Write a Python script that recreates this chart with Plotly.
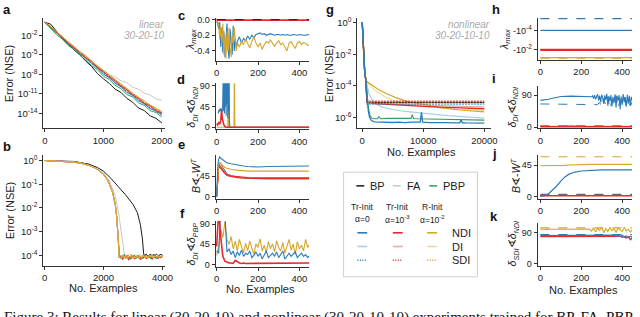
import plotly.graph_objects as go

# ======================= DATA =======================
# Panel a (linear, log10 NSE)
A_X = [0,100,200,300,400,500,600,700,800,900,1000,1100,1200,1300,1400,1500,1600,1700,1800,1900,2000]
A_BP  = [0.0,-0.3,-1.4,-2.5,-3.3,-4.3,-5.0,-6.0,-6.8,-7.9,-8.7,-9.4,-10.3,-10.8,-11.7,-12.3,-13.2,-13.6,-14.4,-14.8,-15.5]
A_FA  = [0.0,-0.9,-1.6,-2.5,-3.2,-4.1,-4.7,-5.6,-6.2,-7.0,-7.4,-8.1,-8.4,-9.0,-9.3,-10.0,-10.3,-10.9,-11.2,-11.8,-12.0]
A_PBP = [0.0,-0.9,-1.9,-2.6,-3.6,-4.2,-5.1,-5.8,-6.7,-7.3,-8.3,-8.8,-9.7,-10.2,-11.1,-11.5,-12.4,-12.8,-13.6,-13.9,-14.6]
A_NDI_B = [0.0,-0.8,-1.7,-2.4,-3.4,-4.0,-4.9,-5.5,-6.4,-7.0,-8.0,-8.5,-9.4,-9.9,-10.8,-11.2,-12.1,-12.5,-13.3,-13.6,-14.3]
A_NDI_R = [0.0,-0.8,-1.5,-2.4,-3.1,-4.0,-4.6,-5.5,-6.0,-7.0,-7.6,-8.4,-9.0,-9.8,-10.4,-11.2,-11.7,-12.5,-12.9,-13.6,-14.0]
A_NDI_Y = [0.0,-0.6,-1.5,-2.2,-3.1,-3.7,-4.6,-5.1,-6.0,-6.7,-7.5,-8.1,-8.9,-9.5,-10.3,-10.9,-11.6,-12.1,-12.8,-13.2,-13.8]
A_DI_B = [0.0,-0.8,-1.6,-2.5,-3.2,-4.1,-4.7,-5.6,-6.2,-7.1,-7.7,-8.6,-9.2,-10.0,-10.6,-11.4,-11.9,-12.7,-13.1,-13.8,-14.1]
A_DI_R = [0.0,-0.7,-1.6,-2.3,-3.2,-3.8,-4.7,-5.3,-6.2,-6.8,-7.7,-8.2,-9.1,-9.6,-10.5,-11.0,-11.8,-12.3,-13.0,-13.4,-14.0]
A_DI_Y = [0.0,-0.7,-1.4,-2.3,-3.0,-3.9,-4.5,-5.4,-5.9,-6.9,-7.4,-8.3,-8.8,-9.7,-10.2,-11.1,-11.5,-12.3,-12.7,-13.4,-13.7]
A_SDI_B = [0.0,-0.8,-1.6,-2.4,-3.3,-4.0,-4.8,-5.5,-6.3,-7.0,-7.8,-8.5,-9.3,-9.9,-10.7,-11.3,-12.0,-12.6,-13.2,-13.7,-14.2]
A_SDI_R = [0.0,-0.7,-1.5,-2.3,-3.1,-3.9,-4.6,-5.4,-6.1,-6.9,-7.6,-8.3,-9.0,-9.7,-10.4,-11.1,-11.7,-12.4,-12.9,-13.5,-13.9]
A_SDI_Y = [0.0,-0.7,-1.5,-2.2,-3.0,-3.8,-4.5,-5.2,-6.0,-6.8,-7.4,-8.2,-8.8,-9.6,-10.2,-11.0,-11.5,-12.2,-12.7,-13.3,-13.7]

# Panel b (log10 NSE)
B_DROP_X = [0,250,500,750,1000,1250,1500,1750,2000,2150,2300,2400,2450,2500,2530]
B_DROP   = [0.0,-0.01,-0.02,-0.04,-0.07,-0.12,-0.2,-0.33,-0.58,-0.85,-1.3,-1.85,-2.4,-3.3,-4.1]
B_FA_X = [0,500,1000,1500,2000,2200,2400,2500,2600,2680,2720]
B_FA   = [0.0,-0.02,-0.06,-0.18,-0.52,-0.85,-1.5,-2.1,-2.9,-3.7,-4.05]
B_BP_X = [0,500,1000,1500,1800,2000,2250,2500,2750,3000,3150,3250,3320,3360,3390]
B_BP   = [0.0,-0.01,-0.04,-0.15,-0.3,-0.45,-0.75,-1.1,-1.45,-1.85,-2.2,-2.7,-3.3,-3.9,-4.1]
B_FLOOR_X = [2550,2600,2650,2700,2750,2800,2850,2900,2950,3000,3050,3100,3150,3200,3250,3300,3350,3400,3450,3500,3550,3600,3650,3700,3750,3800,3850,3900,3950,4000]
B_FLOOR_YEL  = [-4.05,-4.12,-3.98,-4.10,-4.02,-4.15,-4.00,-4.08,-3.97,-4.12,-4.04,-4.10,-3.99,-4.14,-4.03,-4.09,-3.98,-4.11,-4.05,-4.13,-4.00,-4.07,-3.96,-4.12,-4.03,-4.08,-4.00,-4.10,-4.02,-4.06]
B_FLOOR_RED  = [-4.10,-4.02,-4.18,-4.05,-4.12,-4.00,-4.20,-4.06,-4.13,-4.01,-4.16,-4.04,-4.11,-4.03,-4.19,-4.07,-4.12,-4.02,-4.15,-4.05,-4.10,-4.01,-4.17,-4.06,-4.11,-4.03,-4.14,-4.05,-4.09,-4.04]
B_FLOOR_BLUE = [-4.00,-4.14,-4.06,-3.97,-4.11,-4.03,-4.09,-4.16,-4.02,-4.07,-3.99,-4.13,-4.05,-4.01,-4.10,-4.15,-4.04,-3.98,-4.12,-4.06,-4.02,-4.14,-4.07,-3.99,-4.09,-4.13,-4.03,-4.06,-4.11,-4.02]
B_FLOOR_GREY = [-3.98,-4.05,-3.95,-4.02,-3.96,-4.04,-3.99,-3.94,-4.03,-3.97,-4.01,-3.95,-4.04,-3.98,-3.96,-4.02,-3.97,-4.00,-3.95,-4.03,-3.98,-3.96,-4.01,-3.97,-4.00,-3.95,-4.02,-3.98,-3.96,-4.00]

# Panel c (lambda_max)
C_X = [0,5,10,15,20,25,30,35,40,45,50,55,60,65,70,75,80,85,90,95,100,110,120,130,140,150,160,170,180,190,200,210,220,230,240,250,260,270,280,290,300,310,320,330,340,350,360,370,380,390,400,410,420,430,440,450]
C_BLUE = [-0.02,-0.05,-0.12,-0.03,-0.35,-0.1,-0.42,-0.15,-0.48,-0.2,-0.05,-0.38,-0.5,-0.12,-0.3,-0.45,-0.08,-0.4,-0.25,-0.36,-0.28,-0.22,-0.3,-0.24,-0.27,-0.21,-0.25,-0.2,-0.23,-0.19,-0.18,-0.17,-0.19,-0.18,-0.2,-0.19,-0.18,-0.19,-0.2,-0.19,-0.19,-0.2,-0.19,-0.2,-0.19,-0.2,-0.2,-0.19,-0.2,-0.2,-0.19,-0.2,-0.2,-0.2,-0.19,-0.2]
C_YEL = [-0.02,-0.03,-0.05,-0.25,-0.1,-0.3,-0.05,-0.45,-0.2,-0.5,-0.15,-0.4,-0.1,-0.35,-0.48,-0.2,-0.3,-0.1,-0.22,-0.4,-0.3,-0.35,-0.28,-0.32,-0.25,-0.3,-0.36,-0.28,-0.22,-0.3,-0.35,-0.3,-0.38,-0.32,-0.28,-0.3,-0.26,-0.3,-0.34,-0.3,-0.27,-0.32,-0.3,-0.35,-0.4,-0.3,-0.28,-0.33,-0.37,-0.3,-0.28,-0.32,-0.29,-0.3,-0.33,-0.32]
C_FLAT_X = [0,450]
C_RED = [-0.006,-0.006]
C_REF = [0.0,0.0]

# Panel d
D_BLUE_X = [8,11,14,17,20,23,26,29,32,34,36,38,40,42,44,46,48,50,52,54,56,58,60,62,64,450]
D_BLUE = [30,38,34,42,36,40,33,44,120,35,140,30,150,45,130,25,160,50,140,20,130,35,150,15,0,0]
D_RED_X = [0,5,10,15,20,24,27,30,35,40,45,450]
D_RED = [8,5,10,7,15,38,20,10,5,2,0,0]
D_YEL_X = [0,54,56,58,60,84,86,88,90,450]
D_YEL = [0,0,150,0,0,0,150,0,0,0]

# Panel e (B vs -W^T angle)
E_X = [0,3,6,10,15,20,30,40,50,70,90,110,130,150,200,250,300,350,400,450]
E_BLUE    = [0,40,70,82,87,84,80,76,74,72,70,68,67,66,65,66,66,66,67,67]
E_BLUE_DI = [0,30,58,68,74,72,64,56,50,46,44,42,41,40,40,40,40,40,40,40]
E_YEL     = [0,30,55,70,75,72,68,64,62,60,58,57,57,56,56,56,56,56,56,56]
E_YEL_DI  = [0,25,50,62,66,64,58,52,48,45,43,42,41,40,39,38,38,38,38,38]
E_RED     = [0,30,60,70,68,64,58,52,48,45,44,43,42,42,41,41,41,41,41,41]
E_RED_DI  = [0,28,55,65,64,60,55,50,46,44,42,41,41,40,40,40,40,40,40,40]

# Panel f
F_X = [0,10,20,30,40,50,60,70,80,90,100,110,120,130,140,150,160,170,180,190,200,210,220,230,240,250,260,270,280,290,300,310,320,330,340,350,360,370,380,390,400,410,420,430,440,450]
F_YEL = [20,42,78,60,95,55,45,62,35,52,30,56,40,26,47,31,52,36,22,46,38,57,30,43,25,51,35,46,28,53,38,30,49,25,41,56,32,46,22,51,35,43,30,56,38,45]
F_BLUE = [30,25,130,140,110,28,35,22,30,15,28,20,32,18,25,22,30,15,20,28,18,25,12,22,30,15,20,25,18,28,15,22,30,12,20,25,18,22,28,15,20,25,18,22,15,20]
F_RED = [40,120,60,18,7,4,3,3,2,9,5,3,2,3,2,2,3,2,2,3,2,3,2,2,3,2,2,3,2,3,2,2,3,2,3,2,2,3,2,2,3,2,3,2,2,3]

# Panel g (nonlinear, log10 NSE)
G_BP_X = [0,200,400,600,700,750,20000]
G_BP   = [0.0,-2.0,-3.1,-3.7,-4.6,-5.05,-5.05]
G_RED_X = [0,200,400,600,700,800,2000,5000,10000,15000,20000]
G_RED    = [0.0,-2.0,-3.1,-3.7,-4.5,-5.05,-5.12,-5.2,-5.3,-5.38,-5.45]
G_RED_DI = [0.0,-2.0,-3.1,-3.7,-4.5,-5.05,-5.1,-5.15,-5.22,-5.28,-5.33]
G_SDI_X = [0,200,400,600,700,780,20000]
G_SDI_R = [0.0,-2.0,-3.1,-3.7,-4.5,-4.97,-4.97]
G_SDI_Y = [0.0,-2.0,-3.1,-3.7,-4.5,-5.08,-5.08]
G_SDI_B = [0.0,-2.0,-3.1,-3.7,-4.5,-5.16,-5.16]
G_YEL_X = [0,200,400,650,1500,2500,4000,5500,7500,10000,13000,16000,20000]
G_YEL    = [0.0,-2.0,-3.1,-3.7,-3.95,-4.2,-4.5,-4.75,-5.0,-5.2,-5.4,-5.53,-5.65]
G_YEL_DI = [0.0,-2.0,-3.1,-3.7,-4.1,-4.4,-4.75,-4.98,-5.15,-5.3,-5.42,-5.5,-5.56]
G_BLUE_DI_X = [0,200,400,650,900,1200,1700,2500,3300,5000,7000,10000,14000,20000]
G_BLUE_DI   = [0.0,-2.0,-3.1,-3.7,-4.2,-4.6,-4.95,-5.2,-5.35,-5.5,-5.62,-5.75,-5.88,-6.05]
G_BLUE_X = [0,200,400,600,800,1000,1200,1500,2000,3000,4000,5000,6000,7000,8000,9000,9500,9700,9900,11000,12000,13000,14000,15000,16000,16200,16400,17000,18000,19000,20000]
G_BLUE   = [0.0,-2.0,-3.1,-3.7,-4.8,-5.6,-6.0,-6.2,-6.28,-6.3,-6.3,-6.32,-6.3,-6.33,-6.3,-6.32,-6.3,-5.68,-6.3,-6.33,-6.32,-6.34,-6.33,-6.35,-6.34,-6.15,-6.34,-6.35,-6.35,-6.36,-6.36]
G_PBP_X = [0,200,400,600,800,1000,1300,1600,2000,2500,2700,3000,4000,5000,6000,7000,8000,8200,8400,9000,10000,11000,12000,13000,14000,15000,16000,17000,18000,19000,20000]
G_PBP   = [0.0,-2.0,-3.1,-3.7,-4.6,-5.4,-5.9,-6.05,-6.08,-6.08,-5.95,-6.08,-6.06,-6.07,-6.05,-6.08,-6.06,-5.82,-6.07,-6.08,-6.09,-6.1,-6.1,-6.12,-6.12,-6.13,-6.14,-6.15,-6.15,-6.16,-6.17]

# Panel h (lambda_max magnitudes, plotted as -lambda)
H_X = [0,450]
H_BLUE_D = [6.3e-6,6.3e-6]
H_BLUE   = [1e-4,1e-4]
H_RED    = [1e-2,1e-2]
H_RED_D  = [1.05e-2,1.05e-2]
H_YEL    = [0.062,0.062]
H_YEL_D  = [0.07,0.07]

# Panel i
I_X = [0,20,40,60,80,100,150,200,250]
I_BLUE = [75,76,78,81,84,86,87,86,85]
I_TAIL_X = [250,255,260,265,270,275,280,285,290,295,300,305,310,315,320,325,330,335,340,345,350,355,360,365,370,375,380,385,390,395,400,405,410,415,420,425,430,435,440,445,450]
I_TAIL_B = [85,88,80,90,78,86,92,75,88,70,91,82,65,89,76,93,60,87,72,90,58,85,68,92,55,88,74,90,50,86,62,93,70,84,57,91,66,88,60,85,75]
I_DASH_X = [0,100,200,280,290,300,310,320,330,340,350,360,370,380,390,400,410,420,430,440,450]
I_DASH_B = [65,64,64,63,70,55,80,60,85,50,75,62,88,52,78,65,84,58,72,60,70]
I_LOW_X = [0,100,150,200,450]
I_RED   = [1,1,1,1,1]
I_RED_D = [3,3,3,3,3]
I_YEL   = [2,2,5,2,2]
I_YEL_D = [4,4,4,4,4]

# Panel j
J_X = [0,20,40,60,80,100,120,140,170,200,250,300,350,400,450]
J_BLUE = [0,1,4,9,15,22,28,32,35,36.5,37.5,38,38,38,38]
J_YEL  = [44,44,43.5,43.5,43.5,44,44.5,45,45.5,46,46,46,46,46,46]
J_FLAT_X = [0,450]
J_YEL_D  = [57,57]
J_BLUE_D = [3,3]
J_RED_D  = [2,2]
J_RED    = [1,1]

# Panel k
K_X = [0,10,20,30,40,50,60,70,80,90,100,110,120,130,140,150,160,170,180,190,200,210,220,230,240,250,260,270,280,290,300,310,320,330,340,350,360,370,380,390,400,410,420,430,440,450]
K_YEL = [100,101,100,99,101,100,100,101,99,100,101,100,99,100,101,100,99,100,101,100,99,101,100,99,101,95,104,92,103,97,106,90,102,94,105,96,101,91,104,98,93,106,95,100,92,99]
K_BLUE_X = [0,300,340,350,360,370,380,390,400,410,420,430,440,450]
K_BLUE   = [82,82,82,81,83,80,82,79,83,78,81,76,80,77]
K_RED_X = [0,350,370,390,400,410,420,430,440,450]
K_RED   = [79,79,78,80,77,79,75,78,70,76]
K_FLAT_X = [0,450]
K_YEL_D  = [104,104]
K_BLUE_D = [85,85]

# ======================= STYLE =======================
W, H = 640, 317
BP_C = '#1a1a1a'; FA_C = '#c8c8c8'; PBP_C = '#2fa35a'
BLUE = '#2b7bba'; RED = '#e8282b'; YEL = '#d4a62a'
BLUE_L = '#a9cfe8'; RED_L = '#f5a8a8'; YEL_L = '#eedb9c'
FONT = 'Liberation Sans'
AXC = '#333333'
DOT = '1.5px,1.5px'

def fx(p): return p / W
def fy(p): return 1 - p / H

# panel plot-area rectangles in pixels: (x0, x1, y0, y1)
PANELS = {
    'a': (42, 166, 15, 128), 'b': (42, 166, 155, 269),
    'c': (217, 312, 15, 59), 'd': (217, 312, 82, 129),
    'e': (217, 312, 155, 200), 'f': (217, 312, 223, 270),
    'g': (361, 497, 15, 128),
    'h': (544, 640, 15, 58), 'i': (544, 640, 85, 128),
    'j': (544, 640, 155, 200), 'k': (544, 640, 225, 269),
}
ORDER = list(PANELS.keys())
IDX = {k: i + 1 for i, k in enumerate(ORDER)}

fig = go.Figure()
layout = dict(width=W, height=H, margin=dict(l=0, r=0, t=0, b=0),
              paper_bgcolor='white', plot_bgcolor='white', showlegend=False,
              font=dict(family=FONT, size=9, color='#222'))

def sup(e):
    return '10<sup>%d</sup>' % e

AX = dict(showline=True, linecolor=AXC, linewidth=1, ticks='outside', ticklen=3,
          tickcolor=AXC, tickwidth=1, showgrid=False, zeroline=False,
          tickfont=dict(family=FONT, size=9.5, color='#222'))

def setup(p, xr, yr, xt, yt, ytt=None, ylog=False, yfs=9.5):
    n = IDX[p]
    x0, x1, y0, y1 = PANELS[p]
    xa = dict(AX, domain=[fx(x0), fx(x1)], anchor='y%d' % n, range=xr,
              tickmode='array', tickvals=xt, ticktext=[str(v) for v in xt])
    ya = dict(AX, domain=[fy(y1), fy(y0)], anchor='x%d' % n, range=yr,
              tickmode='array', tickvals=yt,
              ticktext=ytt if ytt is not None else [str(v) for v in yt],
              tickfont=dict(family=FONT, size=yfs, color='#222'))
    if ylog:
        ya['type'] = 'log'
    layout['xaxis%d' % n] = xa
    layout['yaxis%d' % n] = ya

setup('a', [-25, 2060], [-16.3, 0.7], [0, 1000, 2000],
      [1e-2, 1e-5, 1e-8, 1e-11, 1e-14], [sup(-2), sup(-5), sup(-8), sup(-11), sup(-14)], ylog=True)
setup('b', [-40, 4100], [-4.45, 0.25], [0, 2000, 4000],
      [1, 1e-1, 1e-2, 1e-3, 1e-4], [sup(0), sup(-1), sup(-2), sup(-3), sup(-4)], ylog=True)
setup('c', [-5, 447], [-0.525, 0.025], [0, 200, 400], [0.0, -0.2, -0.4], ['0.0', '-0.2', '-0.4'], yfs=9)
setup('d', [-5, 447], [-4, 96], [0, 200, 400], [0, 45, 90], yfs=9)
setup('e', [-5, 447], [-4, 92], [0, 200, 400], [0, 45], yfs=9)
setup('f', [-5, 447], [-6, 97], [0, 200, 400], [0, 45, 90], yfs=9)
setup('g', [-800, 21130], [-6.68, 0.31], [0, 10000, 20000],
      [1, 1e-2, 1e-4, 1e-6], [sup(0), sup(-2), sup(-4), sup(-6)], ylog=True)
setup('h', [-14, 448], [-1, -5.3], [0, 200, 400], [1e-4, 1e-2],
      ['-10<sup>-4</sup>', '-10<sup>-2</sup>'], ylog=True, yfs=9)
setup('i', [-14, 448], [-3, 115], [0, 200, 400], [0, 90], yfs=9)
setup('j', [-14, 448], [-3, 60], [0, 200, 400], [0, 45], yfs=9)
setup('k', [-14, 448], [-6, 118], [0, 200, 400], [0, 90], yfs=9)

def line(p, x, y, color, width=1.0, dash='solid', log=False):
    n = IDX[p]
    yy = [10 ** v for v in y] if log else y
    fig.add_trace(go.Scatter(x=x, y=yy, mode='lines', xaxis='x%d' % n, yaxis='y%d' % n,
                             line=dict(color=color, width=width, dash=dash),
                             hoverinfo='skip'))

# a
for ys, c, d in [(A_DI_B, BLUE_L, 'solid'), (A_DI_R, RED_L, 'solid'), (A_DI_Y, YEL_L, 'solid'),
                 (A_FA, FA_C, 'solid'), (A_SDI_B, BLUE, DOT), (A_SDI_R, RED, DOT),
                 (A_SDI_Y, YEL, DOT), (A_BP, BP_C, 'solid'), (A_PBP, PBP_C, 'solid'),
                 (A_NDI_B, BLUE, 'solid'), (A_NDI_R, RED, 'solid'), (A_NDI_Y, YEL, 'solid')]:
    line('a', A_X, ys, c, 1.0, d, log=True)

# b
def after(xs, ys, x_min):
    pts = [(x, y) for x, y in zip(xs, ys) if x > x_min]
    return [p[0] for p in pts], [p[1] for p in pts]

fx_, fy_ = after(B_FLOOR_X, B_FLOOR_GREY, B_FA_X[-1])
line('b', B_FA_X + fx_, B_FA + fy_, FA_C, 1.0, log=True)
bx_, by_ = after(B_FLOOR_X, B_FLOOR_GREY, B_BP_X[-1])
line('b', B_BP_X + bx_, B_BP + by_, BP_C, 1.0, log=True)
for fl, c in [(B_FLOOR_BLUE, BLUE_L), (B_FLOOR_BLUE, BLUE), (B_FLOOR_BLUE, PBP_C),
              (B_FLOOR_RED, RED_L), (B_FLOOR_RED, RED), (B_FLOOR_YEL, YEL_L), (B_FLOOR_YEL, YEL)]:
    line('b', B_DROP_X + B_FLOOR_X, B_DROP + fl, c, 1.0, log=True)

# c
line('c', C_X, C_BLUE, BLUE, 1.1)
line('c', C_X, C_YEL, YEL, 1.1)
line('c', C_FLAT_X, C_RED, RED, 1.6)
line('c', C_FLAT_X, C_REF, BP_C, 1.0, 'dash')

# d
line('d', D_YEL_X, D_YEL, YEL, 1.1)
line('d', D_BLUE_X, D_BLUE, BLUE, 1.1)
line('d', D_RED_X, D_RED, RED, 1.6)

# e
line('e', E_X, E_BLUE_DI, '#44608a', 1.0)
line('e', E_X, E_YEL_DI, YEL, 1.0)
line('e', E_X, E_RED_DI, RED, 1.0)
line('e', E_X, E_RED, RED, 1.2)
line('e', E_X, E_YEL, YEL, 1.1)
line('e', E_X, E_BLUE, BLUE, 1.1)

# f
line('f', F_X, F_YEL, YEL, 1.1)
line('f', F_X, F_BLUE, BLUE, 1.1)
line('f', F_X, F_RED, RED, 1.6)

# g
line('g', G_BLUE_DI_X, G_BLUE_DI, BLUE_L, 1.2, log=True)
line('g', G_YEL_X, G_YEL_DI, YEL_L, 1.2, log=True)
line('g', G_RED_X, G_RED_DI, RED_L, 1.2, log=True)
line('g', G_YEL_X, G_YEL, YEL, 1.2, log=True)
line('g', G_BP_X, G_BP, BP_C, 1.2, log=True)
line('g', G_RED_X, G_RED, RED, 1.4, log=True)
line('g', G_SDI_X, G_SDI_R, RED, 1.2, DOT, log=True)
line('g', G_SDI_X, G_SDI_Y, YEL, 1.2, DOT, log=True)
line('g', G_SDI_X, G_SDI_B, BLUE, 1.2, DOT, log=True)
line('g', G_PBP_X, G_PBP, PBP_C, 1.1, log=True)
line('g', G_BLUE_X, G_BLUE, BLUE, 1.3, log=True)

# h
line('h', H_X, H_BLUE_D, BLUE, 1.1, 'dash')
line('h', H_X, H_BLUE, BLUE, 1.1)
line('h', H_X, H_RED_D, RED, 1.1, 'dash')
line('h', H_X, H_RED, RED, 2.2)
line('h', H_X, H_YEL_D, YEL, 1.1, 'dash')
line('h', H_X, H_YEL, YEL, 1.3)

# i
line('i', I_LOW_X, I_YEL_D, YEL, 1.0, 'dash')
line('i', I_LOW_X, I_YEL, YEL, 1.1)
line('i', I_LOW_X, I_RED_D, RED, 1.0, 'dash')
line('i', I_LOW_X, I_RED, RED, 1.4)
line('i', I_DASH_X, I_DASH_B, BLUE, 1.0, 'dash')
line('i', I_X + I_TAIL_X[1:], I_BLUE + I_TAIL_B[1:], BLUE, 1.1)

# j
line('j', J_FLAT_X, J_YEL_D, YEL, 1.1, 'dash')
line('j', J_X, J_YEL, YEL, 1.1)
line('j', J_FLAT_X, J_BLUE_D, BLUE, 1.1, 'dash')
line('j', J_FLAT_X, J_RED_D, RED, 1.1, 'dash')
line('j', J_FLAT_X, J_RED, RED, 1.6)
line('j', J_X, J_BLUE, BLUE, 1.2)

# k
line('k', K_FLAT_X, K_YEL_D, YEL, 1.1, 'dash')
line('k', K_X, K_YEL, YEL, 1.1)
line('k', K_FLAT_X, K_BLUE_D, BLUE, 1.1, 'dash')
line('k', K_RED_X, K_RED, RED, 1.4)
line('k', K_BLUE_X, K_BLUE, BLUE, 1.2)

# ======================= TEXT =======================
ann = []
def text(x, y, t, size=11, angle=0, color='#222', xanchor='center', yanchor='middle', family=FONT):
    ann.append(dict(x=fx(x), y=fy(y), xref='paper', yref='paper', text=t, showarrow=False,
                    textangle=angle, xanchor=xanchor, yanchor=yanchor,
                    font=dict(family=family, size=size, color=color)))

for p, (x, y) in {'a': (5, 7), 'b': (5, 147), 'c': (182, 13), 'd': (182, 78), 'e': (182, 145),
                  'f': (183, 215), 'g': (333, 7), 'h': (502, 7), 'i': (500, 77),
                  'j': (500, 154), 'k': (500, 218)}.items():
    text(x, y, '<b>%s</b>' % p, size=13, color='#111')

text(8, 72, 'Error (NSE)', 11, -90)
text(8, 212, 'Error (NSE)', 11, -90)
text(333, 72, 'Error (NSE)', 11, -90)
LAM = '<i>λ<sub>max</sub></i>'
BW = '<i>B</i>∢-<i>W<sup>T</sup></i>'
text(192, 37, LAM, 11, -90)
text(193, 106, '<i>δ<sub>DI</sub></i>∢<i>δ<sub>NDI</sub></i>', 10.5, -90)
text(196, 177, BW, 10.5, -90)
text(193, 246, '<i>δ<sub>DI</sub></i>∢<i>δ<sub>PBP</sub></i>', 10.5, -90)
text(511, 37, LAM, 11, -90)
text(519, 106, '<i>δ<sub>DI</sub></i>∢<i>δ<sub>NDI</sub></i>', 10.5, -90)
text(521, 177, BW, 10.5, -90)
text(519, 246, '<i>δ<sub>SDI</sub></i>∢<i>δ<sub>NDI</sub></i>', 10.5, -90)

text(103, 291, 'No. Examples', 11)
text(263, 292, 'No. Examples', 11)
text(426, 152, 'No. Examples', 11)
text(591, 293, 'No. Examples', 11)

text(167, 22, '<i>linear</i>', 10, color='#aaaaaa', xanchor='right')
text(167, 33, '<i>30-20-10</i>', 10, color='#aaaaaa', xanchor='right')
text(498, 22, '<i>nonlinear</i>', 10, color='#aaaaaa', xanchor='right')
text(498, 33, '<i>30-20-10-10</i>', 10, color='#aaaaaa', xanchor='right')

# legend box
shapes = [dict(type='rect', xref='paper', yref='paper', x0=fx(347), x1=fx(483), y0=fy(280), y1=fy(173),
               line=dict(color='#cfcfcf', width=1), fillcolor='rgba(0,0,0,0)')]
def seg(x0, x1, y, color, width=1.5, dash='solid'):
    shapes.append(dict(type='line', xref='paper', yref='paper', x0=fx(x0), x1=fx(x1), y0=fy(y), y1=fy(y),
                       line=dict(color=color, width=width, dash=dash)))
seg(360, 368, 187, BP_C); text(372, 187, 'BP', 11, xanchor='left')
seg(397, 405, 187, FA_C); text(409, 187, 'FA', 11, xanchor='left')
seg(434, 442, 187, PBP_C); text(446, 187, 'PBP', 11, xanchor='left')
for cx, t1, t2 in [(366, 'Tr-Init', 'α=0'), (402, 'Tr-Init', 'α=10<sup>-3</sup>'), (437, 'R-Init', 'α=10<sup>-2</sup>')]:
    text(cx, 209, t1, 8.5)
    text(cx, 221, t2, 8.5)
for y, cols, dash, lab in [(235, (BLUE, RED, YEL), 'solid', 'NDI'),
                           (249, (BLUE_L, RED_L, YEL_L), 'solid', 'DI'),
                           (263, (BLUE, RED, YEL), '1px,1.5px', 'SDI')]:
    for cx, c in zip((366, 402, 437), cols):
        seg(cx - 5, cx + 5, y, c, 1.6, dash)
    text(455, y, lab, 11, xanchor='left')

# caption (cut off at the bottom, as in the source page)
text(0, 311, 'Figure 3: Results for linear (30-20-10) and nonlinear (30-20-10-10) experiments trained for BP, FA, PBP',
     15, color='#111', xanchor='left', yanchor='top', family='Liberation Serif')

layout['annotations'] = ann
layout['shapes'] = shapes
fig.update_layout(**layout)
fig.write_html('out.html', config={'displayModeBar': False},
               post_script="document.body.style.margin='0';document.body.style.padding='0';")
